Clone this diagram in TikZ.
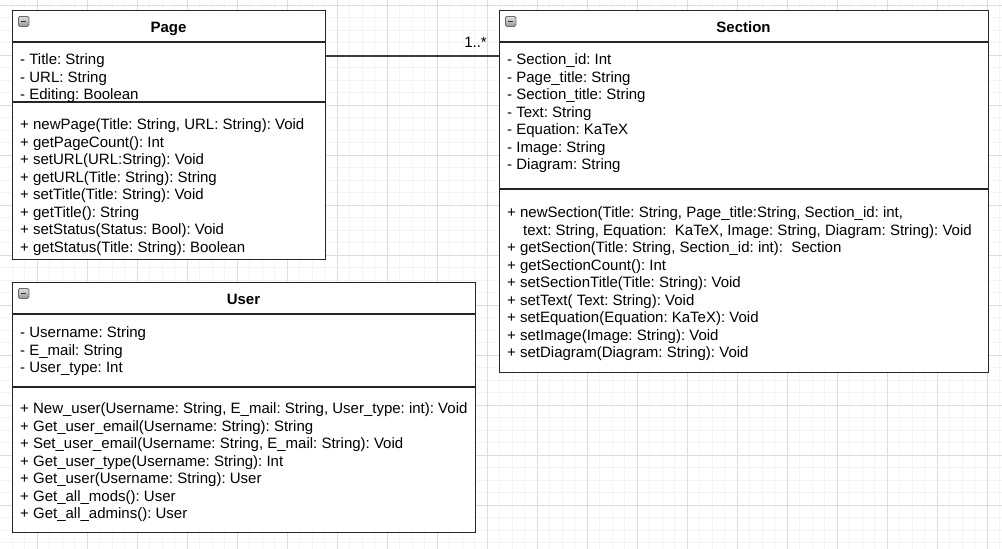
\documentclass[tikz,border=0pt]{standalone}
\usepackage{fontspec}
\setmainfont{Liberation Sans}
\usetikzlibrary{calc}
\frenchspacing
\definecolor{gridmaj}{HTML}{DDDDDD}
\definecolor{gridmin}{HTML}{F4F4F4}
\definecolor{boxline}{HTML}{262626}
\definecolor{icontop}{HTML}{E0E0E0}
\definecolor{iconbot}{HTML}{959595}
\definecolor{iconline}{HTML}{6A6A6A}
\begin{document}
\begin{tikzpicture}[x=1pt,y=-1pt,
  umlbox/.style={draw=boxline, line width=1.3pt, fill=white, anchor=north west, inner sep=0pt},
  sep/.style={draw=boxline, line width=1.2pt},
  txt/.style={anchor=base west, inner sep=0pt, align=left, font=\fontsize{15}{17.5}\selectfont\frenchspacing},
  ttl/.style={anchor=base, inner sep=0pt, font=\fontsize{15}{17.5}\selectfont\bfseries},
  iconbox/.style={anchor=north west, inner sep=0pt, minimum width=10.5pt, minimum height=10pt,
    draw=iconline, line width=0.8pt, rounded corners=1.5pt, top color=icontop, bottom color=iconbot,
    path picture={\draw[line width=1.7pt, draw=black!80] ([xshift=2.5pt]path picture bounding box.west) -- ([xshift=-2.5pt]path picture bounding box.east);}},
  conn/.style={draw=boxline!90, line width=1.5pt},
  mult/.style={anchor=base east, inner sep=0pt, font=\fontsize{15}{17.5}\selectfont}
]
\useasboundingbox (0,0) rectangle (1002,549);
\fill[white] (0,0) rectangle (1002,549);
% grid
\foreach \i in {0,...,80} {
  \pgfmathsetmacro{\gx}{-0.5+12.5*\i}
  \ifdim\gx pt<1002pt \draw[gridmin, line width=0.8pt] (\gx,0) -- (\gx,549); \fi
}
\foreach \i in {0,...,44} {
  \pgfmathsetmacro{\gy}{5+12.5*\i}
  \ifdim\gy pt<549pt \draw[gridmin, line width=0.8pt] (0,\gy) -- (1002,\gy); \fi
}
\foreach \gx in {37,87,...,987} \draw[gridmaj, line width=1pt] (\gx,0) -- (\gx,549);
\foreach \gy in {5,55,...,505} \draw[gridmaj, line width=1pt] (0,\gy) -- (1002,\gy);

% boxes
\node[umlbox, minimum width=313pt, minimum height=249pt] (page) at (12,10) {};
\node[umlbox, minimum width=489pt, minimum height=362pt] (section) at (499,10) {};
\node[umlbox, minimum width=463pt, minimum height=250pt] (user) at (12,282) {};

% separators
\coordinate (ph) at (0,42);
\coordinate (pa) at (0,102);
\coordinate (sa) at (0,189);
\coordinate (uh) at (0,314);
\coordinate (ua) at (0,387);
\draw[sep] (page.west |- ph) -- (page.east |- ph);
\draw[sep] (page.west |- pa) -- (page.east |- pa);
\draw[sep] (section.west |- ph) -- (section.east |- ph);
\draw[sep] (section.west |- sa) -- (section.east |- sa);
\draw[sep] (user.west |- uh) -- (user.east |- uh);
\draw[sep] (user.west |- ua) -- (user.east |- ua);

% icons
\node[iconbox] (pageicon) at (18,16) {};
\node[iconbox] (sectionicon) at (505,16) {};
\node[iconbox] (usericon) at (18,288) {};

% titles
\node[ttl] (pagetitle) at (168.5,32) {Page};
\node[ttl] (sectiontitle) at (743.5,32) {Section};
\node[ttl] (usertitle) at (243.5,304) {User};

% Page contents (anchor = baseline of last line)
\node[txt] (pageattr) at (20,99.5) {- Title: String\\- URL: String\\- Editing: Boolean};
\node[txt] (pageops) at (20,252) {+ newPage(Title: String, URL: String): Void\\
+ getPageCount(): Int\\
+ setURL(URL:String): Void\\
+ getURL(Title: String): String\\
+ setTitle(Title: String): Void\\
+ getTitle(): String\\
+ setStatus(Status: Bool): Void\\
+ getStatus(Title: String): Boolean};

% Section contents
\node[txt] (sectionattr) at (507,169.5) {- Section\_id: Int\\
- Page\_title: String\\
- Section\_title: String\\
- Text: String\\
- Equation: KaTeX\\
- Image: String\\
- Diagram: String};
\node[txt] (sectionops) at (507,357.5) {+ newSection(Title: String, Page\_title:String, Section\_id: int,\\
\hspace*{16pt}text: String, Equation:\ \ KaTeX, Image: String, Diagram: String): Void\\
+ getSection(Title: String, Section\_id: int):\ \ Section\\
+ getSectionCount(): Int\\
+ setSectionTitle(Title: String): Void\\
+ setText( Text: String): Void\\
+ setEquation(Equation: KaTeX): Void\\
+ setImage(Image: String): Void\\
+ setDiagram(Diagram: String): Void};

% User contents
\node[txt] (userattr) at (20,372.5) {- Username: String\\
- E\_mail: String\\
- User\_type: Int};
\node[txt] (userops) at (20,518.5) {+ New\_user(Username: String, E\_mail: String, User\_type: int): Void\\
+ Get\_user\_email(Username: String): String\\
+ Set\_user\_email(Username: String, E\_mail: String): Void\\
+ Get\_user\_type(Username: String): Int\\
+ Get\_user(Username: String): User\\
+ Get\_all\_mods(): User\\
+ Get\_all\_admins(): User};

% connector
\coordinate (cy) at (0,56);
\draw[conn] (page.east |- cy) -- (section.west |- cy);
\node[mult] (multlabel) at (487,47) {1..*};
\end{tikzpicture}
\end{document}
